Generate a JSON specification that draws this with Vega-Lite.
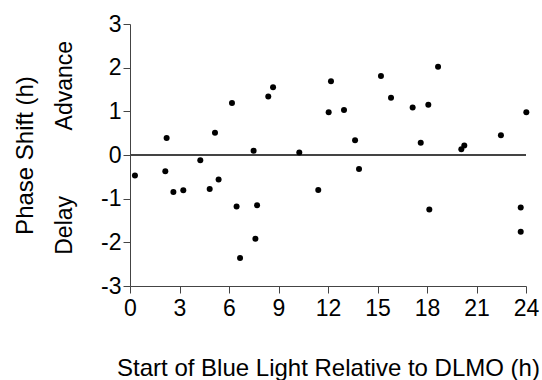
{
  "$schema": "https://vega.github.io/schema/vega-lite/v6.json",
  "autosize": "none",
  "width": 396,
  "height": 262,
  "padding": {"left": 130, "top": 24, "right": 16, "bottom": 94},
  "background": "white",
  "config": {
    "view": {"stroke": null},
    "font": "Liberation Sans",
    "axis": {"grid": false, "domainColor": "#444444", "tickColor": "#444444", "labelColor": "black", "titleColor": "black", "labelFont": "Liberation Sans", "titleFont": "Liberation Sans", "titleFontWeight": "normal"}
  },
  "data": {"values": [
    {"start": 0.30, "shift": -0.47},
    {"start": 2.22, "shift": 0.39},
    {"start": 2.14, "shift": -0.37},
    {"start": 2.63, "shift": -0.85},
    {"start": 3.23, "shift": -0.81},
    {"start": 4.26, "shift": -0.12},
    {"start": 4.83, "shift": -0.78},
    {"start": 5.15, "shift": 0.51},
    {"start": 5.37, "shift": -0.56},
    {"start": 6.18, "shift": 1.19},
    {"start": 6.46, "shift": -1.18},
    {"start": 6.67, "shift": -2.36},
    {"start": 7.49, "shift": 0.10},
    {"start": 7.60, "shift": -1.92},
    {"start": 7.70, "shift": -1.15},
    {"start": 8.38, "shift": 1.34},
    {"start": 8.67, "shift": 1.55},
    {"start": 10.26, "shift": 0.06},
    {"start": 11.41, "shift": -0.80},
    {"start": 12.04, "shift": 0.98},
    {"start": 12.18, "shift": 1.69},
    {"start": 12.97, "shift": 1.03},
    {"start": 13.64, "shift": 0.34},
    {"start": 13.88, "shift": -0.32},
    {"start": 15.21, "shift": 1.81},
    {"start": 15.82, "shift": 1.31},
    {"start": 17.13, "shift": 1.09},
    {"start": 17.62, "shift": 0.28},
    {"start": 18.08, "shift": 1.15},
    {"start": 18.14, "shift": -1.25},
    {"start": 18.67, "shift": 2.02},
    {"start": 20.08, "shift": 0.13},
    {"start": 20.26, "shift": 0.22},
    {"start": 22.48, "shift": 0.45},
    {"start": 24.02, "shift": 0.98},
    {"start": 23.68, "shift": -1.20},
    {"start": 23.68, "shift": -1.76}
  ]},
  "layer": [
    {
      "mark": {"type": "rule", "color": "#444444", "strokeWidth": 1.2},
      "encoding": {
        "y": {"datum": 0, "type": "quantitative", "scale": {"domain": [-3, 3], "nice": false},
          "axis": {"orient": "left", "values": [-1.6, 1.6], "labelExpr": "datum.value > 0 ? 'Advance' : 'Delay'", "labelAngle": -90, "labelAlign": "center", "labelBaseline": "middle", "labelFontSize": 23, "ticks": false, "domain": false, "labelPadding": 66, "title": null, "labelFlush": false, "labelOverlap": false}
        }
      }
    },
    {
      "mark": {"type": "circle", "color": "black", "opacity": 1, "size": 36},
      "encoding": {
        "x": {"field": "start", "type": "quantitative", "scale": {"domain": [0, 24], "nice": false, "clamp": false},
          "axis": {"values": [0, 3, 6, 9, 12, 15, 18, 21, 24], "tickSize": 7, "labelPadding": 4, "labelFontSize": 23, "title": "Start of Blue Light Relative to DLMO (h)", "titleFontSize": 24, "titleY": 89, "titleBaseline": "alphabetic", "labelFlush": false}
        },
        "y": {"field": "shift", "type": "quantitative", "scale": {"domain": [-3, 3], "nice": false},
          "axis": {"orient": "left", "values": [-3, -2, -1, 0, 1, 2, 3], "labelExpr": "datum.value < 0 ? '-' + abs(datum.value) : '' + datum.value", "tickSize": 7, "labelPadding": 2, "labelFontSize": 23, "title": "Phase Shift (h)", "titleFontSize": 24, "titleAngle": -90, "titleX": -105, "titleBaseline": "middle", "labelFlush": false}
        }
      }
    }
  ],
  "resolve": {"axis": {"y": "independent"}}
}
